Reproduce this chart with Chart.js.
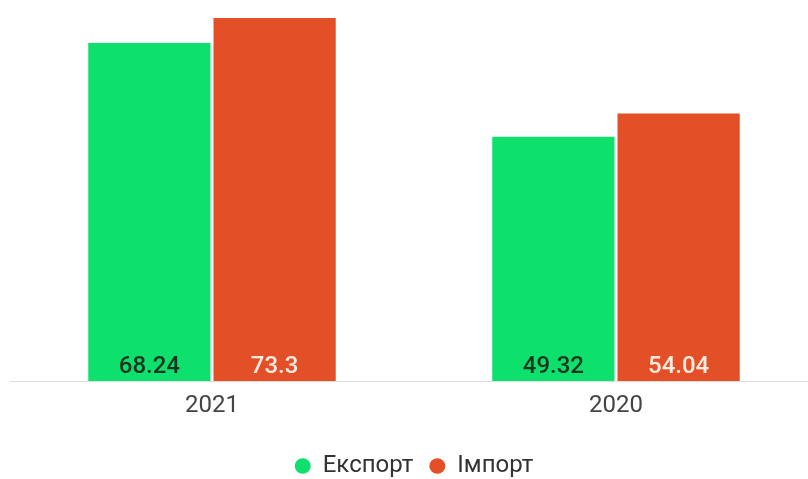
<!DOCTYPE html>
<html>
<head>
<meta charset="utf-8">
<script src="https://cdn.jsdelivr.net/npm/chart.js@4.4.0/dist/chart.umd.min.js"></script>
<style>
html,body{margin:0;padding:0;background:#fff;overflow:hidden;}
#wrap{position:absolute;left:0;top:0;width:820px;height:479px;}
</style>
</head>
<body>
<div id="wrap"><canvas id="c"></canvas></div>
<script>
const categories = ["2021", "2020"];
const exportValues = [68.24, 49.32];
const importValues = [73.3, 54.04];
const seriesNames = ["Експорт", "Імпорт"];

const labelPlugin = {
  id: 'bottomLabels',
  afterDatasetsDraw(chart) {
    const ctx = chart.ctx;
    const colors = ['#14361f', '#fdebe0'];
    chart.data.datasets.forEach((ds, i) => {
      const meta = chart.getDatasetMeta(i);
      meta.data.forEach((bar, j) => {
        ctx.save();
        ctx.font = '500 24px Roboto';
        ctx.fillStyle = colors[i];
        ctx.textAlign = 'center';
        ctx.textBaseline = 'alphabetic';
        ctx.fillText(String(ds.data[j]), bar.x, bar.base - 8);
        ctx.restore();
      });
    });
  }
};

new Chart(document.getElementById('c'), {
  type: 'bar',
  data: {
    labels: categories,
    datasets: [
      { label: seriesNames[0], data: exportValues, backgroundColor: '#0ee06e' },
      { label: seriesNames[1], data: importValues, backgroundColor: '#e34f26' }
    ]
  },
  options: {
    responsive: true,
    maintainAspectRatio: false,
    animation: false,
    layout: { padding: { left: 10, right: 2, top: 18, bottom: -9 } },
    categoryPercentage: 0.62,
    barPercentage: 0.976,
    plugins: {
      tooltip: { enabled: false },
      legend: {
        position: 'bottom',
        labels: {
          usePointStyle: true,
          pointStyle: 'circle',
          pointStyleWidth: 16,
          boxHeight: 11,
          padding: 16,
          color: '#333',
          font: { family: 'Roboto', size: 24 }
        }
      }
    },
    scales: {
      x: {
        grid: { display: false },
        border: { color: '#dddddd', width: 1 },
        ticks: { color: '#444', font: { family: 'Roboto', size: 24 }, padding: 3 },
        afterFit(scale) { scale.height = 57; }
      },
      y: {
        display: false,
        min: 0,
        max: Math.max(...importValues, ...exportValues)
      }
    }
  },
  plugins: [labelPlugin]
});
</script>
</body>
</html>
